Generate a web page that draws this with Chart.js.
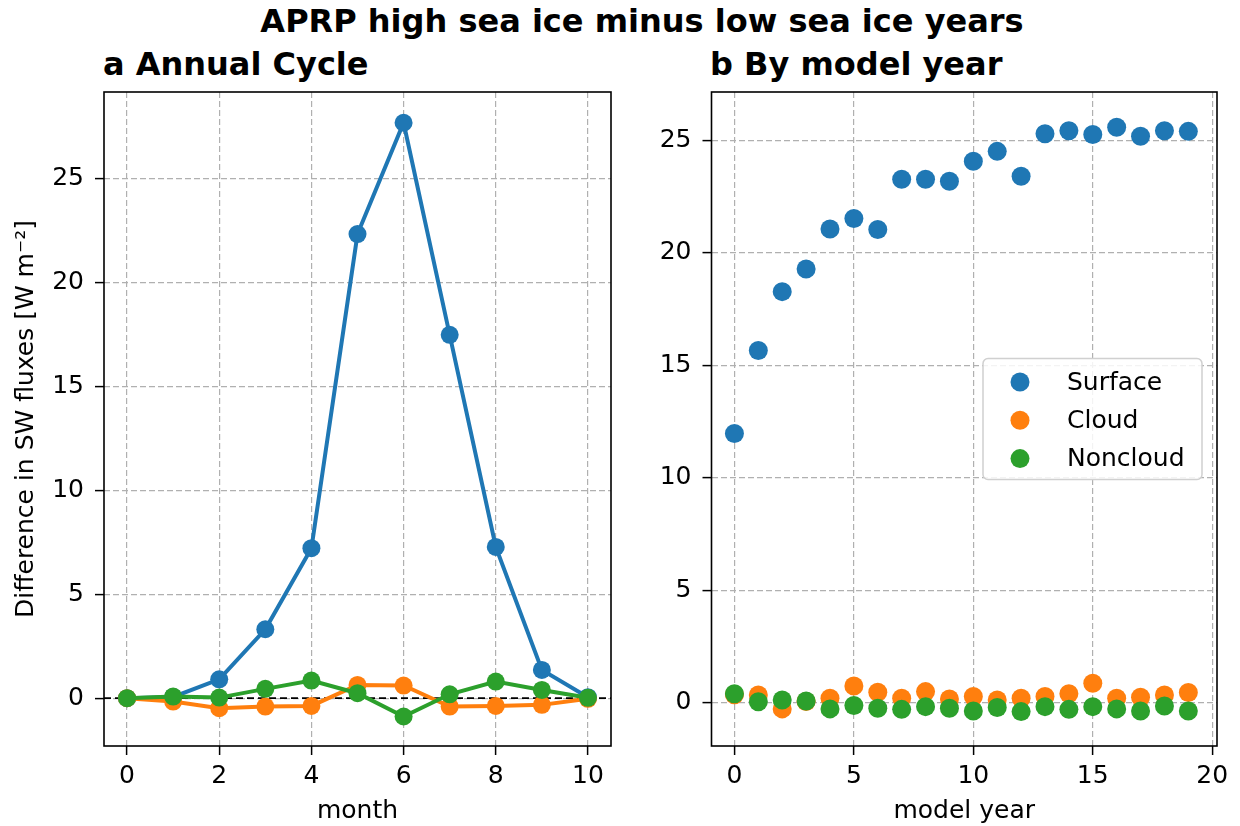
<!DOCTYPE html>
<html>
<head>
<meta charset="utf-8">
<script src="https://cdn.jsdelivr.net/npm/chart.js@4.4.0/dist/chart.umd.min.js"></script>
<style>
  body { margin: 0; background: #fff; width: 1240px; height: 826px; overflow: hidden; position: relative; font-family: 'DejaVu Sans', sans-serif; }
  .panel { position: absolute; top: 0; width: 620px; height: 826px; }
  .titulo { position: absolute; font-weight: bold; font-size: 32px; line-height: 32px; white-space: nowrap; color: #000; }
</style>
</head>
<body>
<div class="titulo" style="left:22px; width:1240px; top:5px; text-align:center;">APRP high sea ice minus low sea ice years</div>
<div class="titulo" style="left:103px; top:48px;">a Annual Cycle</div>
<div class="titulo" style="left:710px; top:48px;">b By model year</div>
<div class="panel" style="left:0"><canvas id="graficoMes" width="620" height="826"></canvas></div>
<div class="panel" style="left:620px"><canvas id="graficoAnio" width="620" height="826"></canvas></div>
<script>
// panel a: ciclo anual
const meses = [0, 1, 2, 3, 4, 5, 6, 7, 8, 9, 10];
const superficieMes = [0.0, 0.06, 0.91, 3.32, 7.22, 22.34, 27.70, 17.49, 7.28, 1.36, 0.05];
const nubeMes = [0.0, -0.16, -0.48, -0.40, -0.37, 0.64, 0.61, -0.40, -0.37, -0.32, -0.03];
const noNubeMes = [0.0, 0.08, 0.03, 0.45, 0.85, 0.24, -0.88, 0.19, 0.80, 0.40, 0.02];

// panel b: por año de modelo
const anios = [0, 1, 2, 3, 4, 5, 6, 7, 8, 9, 10, 11, 12, 13, 14, 15, 16, 17, 18, 19];
const superficieAnio = [11.97, 15.66, 18.28, 19.29, 21.07, 21.53, 21.04, 23.28, 23.28, 23.19, 24.08, 24.52, 23.41, 25.30, 25.44, 25.27, 25.59, 25.19, 25.44, 25.41];
const nubeAnio = [0.35, 0.34, -0.28, 0.05, 0.19, 0.74, 0.46, 0.19, 0.49, 0.16, 0.27, 0.12, 0.19, 0.27, 0.39, 0.86, 0.19, 0.24, 0.34, 0.45];
const noNubeAnio = [0.39, 0.04, 0.12, 0.07, -0.28, -0.13, -0.25, -0.30, -0.18, -0.25, -0.37, -0.22, -0.40, -0.18, -0.30, -0.18, -0.28, -0.37, -0.15, -0.37];

const nombres = ['Surface', 'Cloud', 'Noncloud'];
const colores = ['#1f77b4', '#ff7f0e', '#2ca02c'];

const ticksMes = [0, 2, 4, 6, 8, 10];
const ticksAnio = [0, 5, 10, 15, 20];
const ticksY = [0, 5, 10, 15, 20, 25];

const rangoXMes = [-0.5, 10.5];
const rangoYMes = [-2.30, 29.18];
const rangoXAnio = [-0.96, 20.2];
const rangoYAnio = [-1.93, 27.16];
const lineaCero = 0;

Chart.defaults.font.family = "'DejaVu Sans', sans-serif";
Chart.defaults.color = '#000';

const puntos = (xs, ys) => xs.map((x, i) => ({ x, y: ys[i] }));

function ejeLineal(rango, ticks, ancho, alto, titulo, enfrente) {
  return {
    type: 'linear',
    min: rango[0],
    max: rango[1],
    bounds: 'data',
    z: enfrente ? 1 : 0,
    afterBuildTicks: (s) => { s.ticks = ticks.map(v => ({ value: v })); },
    afterFit: (s) => {
      if (ancho !== null) s.width = ancho;
      if (alto !== null) s.height = alto;
    },
    grid: {
      color: '#b0b0b0', lineWidth: 1.2,
      tickColor: '#000', tickWidth: 1.5, tickLength: 9, tickBorderDash: []
    },
    border: { display: false, dash: [6, 3] },
    ticks: {
      font: { size: 25 }, color: '#000', padding: ancho !== null ? 11 : 6,
      maxRotation: 0, autoSkip: false,
      callback: (v) => String(v)
    },
    title: titulo
  };
}

const marco = {
  id: 'marco',
  afterDraw(chart) {
    const { ctx, chartArea: a } = chart;
    ctx.save();
    ctx.strokeStyle = '#000';
    ctx.lineWidth = 1.6;
    ctx.strokeRect(a.left, a.top, a.right - a.left, a.bottom - a.top);
    ctx.restore();
  }
};

const lineaNegra = {
  id: 'lineaNegra',
  beforeDatasetsDraw(chart) {
    const { ctx, chartArea: a, scales } = chart;
    const y = scales.y.getPixelForValue(lineaCero);
    ctx.save();
    ctx.strokeStyle = '#000';
    ctx.lineWidth = 1.8;
    ctx.setLineDash([7, 4]);
    ctx.beginPath();
    ctx.moveTo(a.left, y);
    ctx.lineTo(a.right, y);
    ctx.stroke();
    ctx.restore();
  }
};

const leyenda = {
  id: 'leyenda',
  afterDraw(chart) {
    const { ctx, chartArea: a } = chart;
    const w = 219, h = 121;
    const x0 = a.right - 15 - w;
    const y0 = (a.top + a.bottom) / 2 - h / 2;
    ctx.save();
    ctx.beginPath();
    ctx.roundRect(x0, y0, w, h, 5);
    ctx.fillStyle = 'rgba(255,255,255,0.85)';
    ctx.fill();
    ctx.strokeStyle = '#d0d0d0';
    ctx.lineWidth = 1.5;
    ctx.stroke();
    ctx.font = "25px 'DejaVu Sans'";
    ctx.textBaseline = 'middle';
    chart.data.datasets.forEach((d, i) => {
      const yy = y0 + 23.5 + i * 38.3;
      ctx.beginPath();
      ctx.arc(x0 + 37, yy, 9.5, 0, Math.PI * 2);
      ctx.fillStyle = d.backgroundColor;
      ctx.fill();
      ctx.fillStyle = '#000';
      ctx.fillText(d.label, x0 + 84, yy + 1);
    });
    ctx.restore();
  }
};

function serieLinea(i, ys) {
  return {
    label: nombres[i],
    data: puntos(meses, ys),
    borderColor: colores[i],
    backgroundColor: colores[i],
    borderWidth: 4,
    pointRadius: 9,
    pointHoverRadius: 9,
    pointBorderWidth: 0,
    tension: 0,
    order: 2 - i
  };
}

new Chart(document.getElementById('graficoMes'), {
  type: 'line',
  data: {
    datasets: [
      serieLinea(0, superficieMes),
      serieLinea(1, nubeMes),
      serieLinea(2, noNubeMes)
    ]
  },
  options: {
    responsive: false,
    animation: false,
    events: [],
    layout: { padding: { top: 92, right: 9, bottom: 0, left: 0 } },
    plugins: { legend: { display: false }, tooltip: { enabled: false } },
    scales: {
      x: ejeLineal(rangoXMes, ticksMes, null, 80,
        { display: true, text: 'month', font: { size: 25 }, color: '#000', padding: { top: 0, bottom: 0 } }, false),
      y: ejeLineal(rangoYMes, ticksY, 104, null,
        { display: true, text: 'Difference in SW fluxes [W m\u207B\u00B2]', font: { size: 25 }, color: '#000', padding: { top: 11, bottom: 0 } }, false)
    }
  },
  plugins: [lineaNegra, marco]
});

function seriePuntos(i, ys) {
  return {
    label: nombres[i],
    data: puntos(anios, ys),
    backgroundColor: colores[i],
    borderColor: colores[i],
    pointRadius: 9.5,
    pointHoverRadius: 9.5,
    pointBorderWidth: 0,
    order: 2 - i
  };
}

new Chart(document.getElementById('graficoAnio'), {
  type: 'scatter',
  data: {
    datasets: [
      seriePuntos(0, superficieAnio),
      seriePuntos(1, nubeAnio),
      seriePuntos(2, noNubeAnio)
    ]
  },
  options: {
    responsive: false,
    animation: false,
    events: [],
    layout: { padding: { top: 92, right: 23, bottom: 0, left: 0 } },
    plugins: { legend: { display: false }, tooltip: { enabled: false } },
    scales: {
      x: ejeLineal(rangoXAnio, ticksAnio, null, 80,
        { display: true, text: 'model year', font: { size: 25 }, color: '#000', padding: { top: 0, bottom: 0 } }, true),
      y: ejeLineal(rangoYAnio, ticksY, 91.5, null, { display: false }, true)
    }
  },
  plugins: [marco, leyenda]
});
</script>
</body>
</html>
